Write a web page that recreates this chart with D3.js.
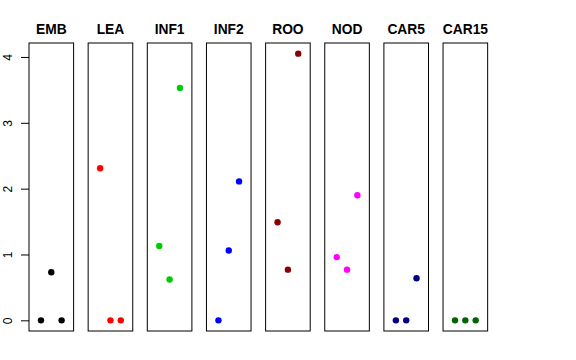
<!DOCTYPE html>
<html>
<head>
<meta charset="utf-8">
<script src="https://cdn.jsdelivr.net/npm/d3@7"></script>
<style>
  body { margin: 0; background: #fff; }
  svg { display: block; font-family: "Liberation Sans", Arial, sans-serif; }
</style>
</head>
<body>
<div id="chart"></div>
<script>
// tissues, one panel each
const tissues = ['EMB', 'LEA', 'INF1', 'INF2', 'ROO', 'NOD', 'CAR5', 'CAR15']
// three replicates per tissue (x = 1, 2, 3)
const replicates = [1, 2, 3]
const values = [
  [0, 0.73, 0],
  [2.31, 0, 0],
  [1.13, 0.62, 3.53],
  [0, 1.06, 2.11],
  [1.49, 0.77, 4.05],
  [0.96, 0.77, 1.90],
  [0, 0, 0.64],
  [0, 0, 0]
]
const yTicks = [0, 1, 2, 3, 4]
const colors = ['#000000', '#ff0000', '#00cd00', '#0000ff', '#8b0000', '#ff00ff', '#000080', '#006400']

const W = 576, H = 360
const boxTop = 43, boxBottom = 331
const panelLeft = 29, panelStep = 59.15, panelW = 44.6

const svg = d3.select('#chart').append('svg').attr('width', W).attr('height', H)

const y = d3.scaleLinear().domain([-0.162, 4.212]).range([boxBottom, boxTop])
const x = d3.scaleLinear().domain([-0.16, 4.16]).range([0, panelW])

tissues.forEach((name, i) => {
  const g = svg.append('g').attr('transform', `translate(${panelLeft + i * panelStep},0)`)

  g.append('rect')
    .attr('x', 0).attr('y', boxTop)
    .attr('width', panelW).attr('height', boxBottom - boxTop)
    .attr('fill', 'none').attr('stroke', '#000').attr('stroke-width', 1)

  g.append('text')
    .attr('x', panelW / 2).attr('y', 34)
    .attr('text-anchor', 'middle')
    .attr('font-size', 13.8).attr('font-weight', 'bold')
    .text(name)

  g.selectAll('circle')
    .data(values[i])
    .join('circle')
    .attr('cx', (d, j) => x(replicates[j]))
    .attr('cy', d => y(d))
    .attr('r', 3.2)
    .attr('fill', colors[i])

  if (i === 0) {
    const axis = g.append('g')
      .call(d3.axisLeft(y).tickValues(yTicks).tickSize(8).tickPadding(4).tickFormat(d3.format('d')))
    axis.select('.domain').remove()
    axis.selectAll('text')
      .attr('font-size', 12)
      .attr('font-family', '"Liberation Sans", Arial, sans-serif')
      .attr('text-anchor', 'middle')
      .attr('dy', null)
      .attr('x', null)
      .attr('transform', 'translate(-21,0) rotate(-90)')
      .attr('dominant-baseline', 'central')
  }
})
</script>
</body>
</html>
